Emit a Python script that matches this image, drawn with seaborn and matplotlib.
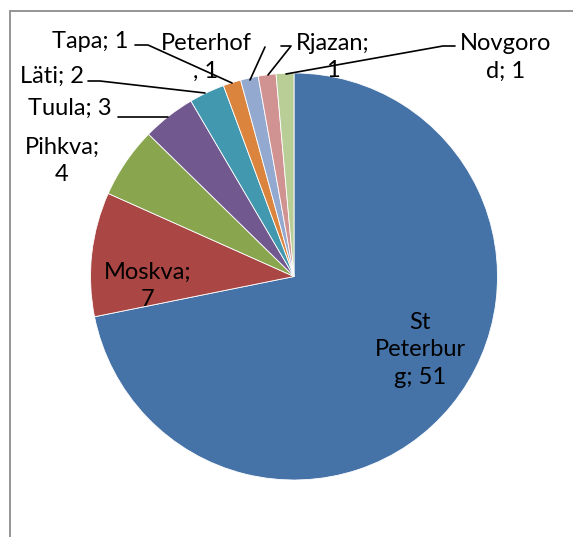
import matplotlib
matplotlib.use("Agg")
import matplotlib.pyplot as plt
import seaborn as sns
from matplotlib.patches import Rectangle

sns.set_theme(style="white")
plt.rcParams['font.family'] = ['Lato', 'DejaVu Sans']

# data
cities = ["St Peterburg", "Moskva", "Pihkva", "Tuula", "Läti", "Tapa",
          "Peterhof", "Rjazan", "Novgorod"]
counts = [51, 7, 4, 3, 2, 1, 1, 1, 1]
label_fmt = ["St\nPeterbur\ng; {}", "Moskva;\n{}", "Pihkva;\n{}", "Tuula; {}",
             "Läti; {}", "Tapa; {}", "Peterhof\n, {}", "Rjazan;\n{}", "Novgoro\nd; {}"]
colors = sns.color_palette(["#4572A7", "#AA4643", "#89A54E", "#71588F", "#4198AF",
                            "#DB843D", "#93A9CF", "#D19392", "#B9CD96"])

W, H = 573, 537
fig = plt.figure(figsize=(W / 100, H / 100), dpi=100)
ax = fig.add_axes([0, 0, 1, 1])

def P(x, y):
    return (x, H - y)

cx, cy = P(294, 276.5)
ax.pie(counts, colors=colors, startangle=90, counterclock=False,
       center=(cx, cy), radius=203.5, frame=True,
       wedgeprops=dict(edgecolor='white', linewidth=0.6))
ax.set_xlim(0, W)
ax.set_ylim(0, H)
ax.set_aspect('equal')
ax.axis('off')

# frame
ax.add_patch(Rectangle(P(10, 560), 600, 549, fill=False, edgecolor='#8c8c8c',
                       linewidth=1.3, clip_on=False))

# label positions (pixel centers)
pos = [(420, 350), (148, 286), (62, 161), (70, 108), (52, 76), (90, 42),
       (206, 57), (333, 57), (506, 57)]
for fmt, v, (x, y) in zip(label_fmt, counts, pos):
    ax.text(*P(x, y), fmt.format(v), ha='center', va='center', fontsize=17,
            color='black', linespacing=1.4)

# leader lines
leaders = [
    [(135, 45), (148, 45), (232, 83)],
    [(88, 81), (100, 81), (205, 93)],
    [(118, 117), (168, 117)],
    [(265, 47), (250, 80)],
    [(281, 46), (291, 46), (268, 75)],
    [(455, 46), (443, 46), (286, 74)],
]
for seg in leaders:
    xs = [p[0] for p in seg]
    ys = [H - p[1] for p in seg]
    ax.plot(xs, ys, color='black', linewidth=1.2)

fig.savefig("out.png", dpi=100)
